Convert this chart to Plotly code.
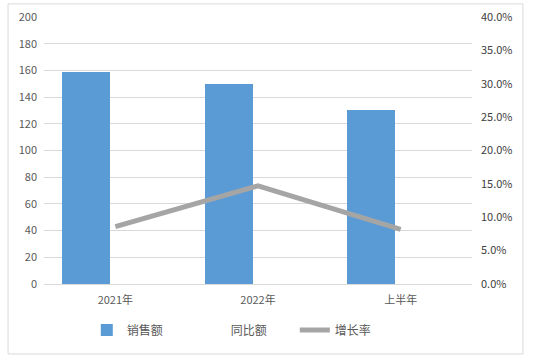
import plotly.graph_objects as go

categories = ["2021年", "2022年", "上半年"]
sales = [159, 150, 130]
second_series = [None, None, None]
growth_rate = [0.086, 0.147, 0.082]

series_names = ["销售额", "同比额", "增长率"]

left_ticks = [0, 20, 40, 60, 80, 100, 120, 140, 160, 180, 200]
right_ticks = [0, 0.05, 0.10, 0.15, 0.20, 0.25, 0.30, 0.35, 0.40]

FONT = "Noto Sans CJK SC, Noto Sans, sans-serif"
GRAY = "#595959"

fig = go.Figure()
fig.add_trace(go.Bar(
    x=categories, y=sales, name=series_names[0],
    marker=dict(color="#5b9bd5", line=dict(width=0)),
    width=0.336, offset=-0.374,
))
fig.add_trace(go.Bar(
    x=categories, y=second_series, name=series_names[1],
    marker=dict(color="rgba(0,0,0,0)", line=dict(width=0)),
    width=0.336, offset=-0.038,
))
fig.add_trace(go.Scatter(
    x=categories, y=growth_rate, name=series_names[2], yaxis="y2",
    mode="lines", line=dict(color="#a5a5a5", width=5),
))

fig.update_layout(
    width=533, height=361,
    margin=dict(l=44, r=61, t=17, b=77, autoexpand=False),
    paper_bgcolor="white", plot_bgcolor="white",
    font=dict(family=FONT, size=11, color=GRAY),
    showlegend=True,
    legend=dict(orientation="h", x=0.1, xanchor="left", y=-0.172, yanchor="middle",
                font=dict(size=12, color=GRAY), itemwidth=30, tracegroupgap=0,
                entrywidth=59, traceorder="normal"),
    xaxis=dict(type="category", range=[-0.5, 2.5], showgrid=False, automargin=False,
               showline=True, linecolor="#d9d9d9", linewidth=1,
               ticks="", ticklabelstandoff=6, tickfont=dict(size=11, color=GRAY)),
    yaxis=dict(range=[0, 200], tickvals=left_ticks, showgrid=True, gridcolor="#d9d9d9",
               gridwidth=1, zeroline=False, showline=False, ticks="", automargin=False,
               ticklabelstandoff=6, tickfont=dict(size=11, color=GRAY)),
    yaxis2=dict(range=[0, 0.40], tickvals=right_ticks, tickformat=".1%", overlaying="y",
                side="right", showgrid=False, zeroline=False, showline=False, ticks="",
                automargin=False,
                ticklabelstandoff=8, tickfont=dict(size=11, color="#404040")),
    shapes=[dict(type="rect", xref="paper", yref="paper",
                 x0=-0.084, x1=1.119, y0=-0.262, y1=1.049,
                 line=dict(color="#d9d9d9", width=1), fillcolor="rgba(0,0,0,0)",
                 layer="below")],
    bargap=0,
)

fig.write_html("out.html", config={"displayModeBar": False},
               post_script="document.body.style.margin='0';document.body.style.padding='0';")
